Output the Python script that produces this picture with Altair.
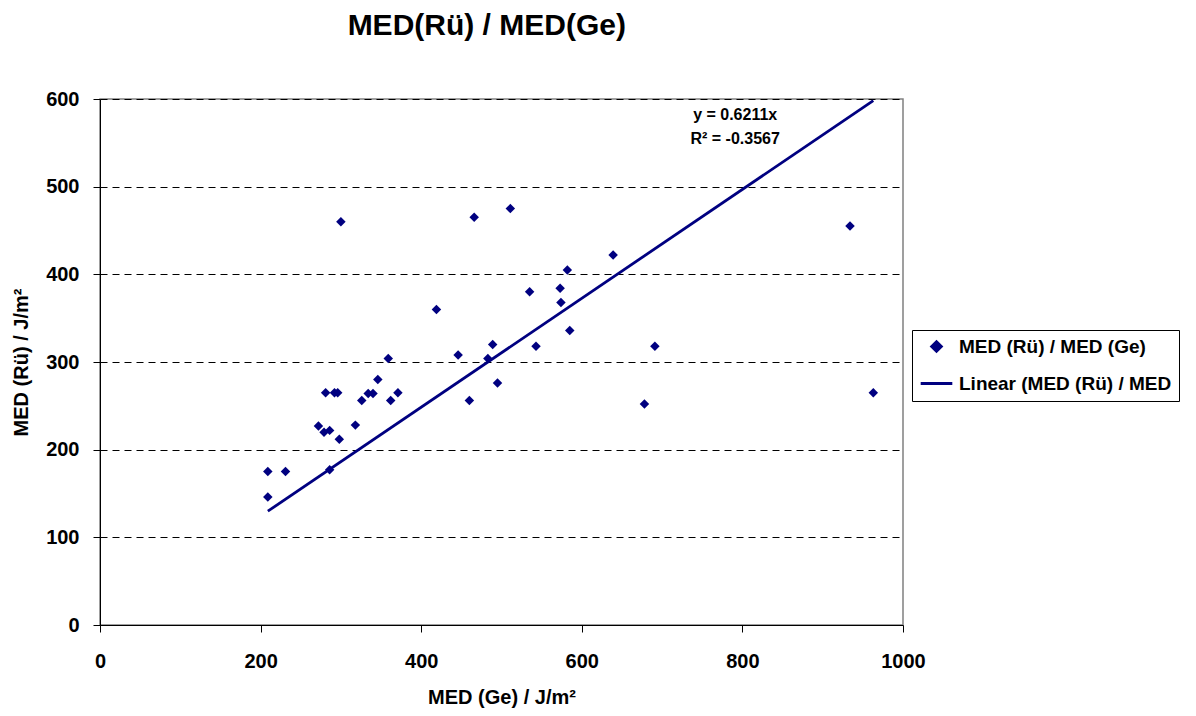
import altair as alt
import pandas as pd

# Data
med_ge = [209, 209, 231, 286, 272, 279, 286, 298, 318, 281, 292, 296, 326, 334,
          340, 346, 359, 362, 371, 300, 466, 511, 419, 639, 582, 573, 535, 574,
          585, 446, 489, 483, 543, 691, 495, 460, 678, 934, 963]
med_ru = [175, 146, 175, 177, 227, 220, 222, 212, 228, 265, 265, 265, 256, 264,
          264, 280, 304, 256, 265, 460, 465, 475, 360, 422, 405, 384, 380, 368,
          336, 308, 320, 304, 318, 318, 276, 256, 252, 455, 265]
slope = 0.6211
eq_lines = ["y = 0.6211x", "R² = -0.3567"]
eq_x = [791, 791]
eq_y = [582, 554]
series_names = ["MED (Rü) / MED (Ge)", "Linear (MED (Rü) / MED"]

NAVY = "#000080"
FONT = "Liberation Sans"

pts = pd.DataFrame({"x": med_ge, "y": med_ru, "s": series_names[0]})
xmin, xmax = min(med_ge), max(med_ge)
trend = pd.DataFrame({"x": [xmin, xmax], "y": [slope * xmin, slope * xmax],
                      "s": series_names[1]})
eq = pd.DataFrame({"x": eq_x, "y": eq_y, "t": eq_lines})

xs = alt.Scale(domain=[0, 1000], nice=False, zero=True)
ys = alt.Scale(domain=[0, 600], nice=False, zero=True)

color = alt.Color(
    "s:N",
    scale=alt.Scale(domain=series_names, range=[NAVY, NAVY]),
    legend=alt.Legend(
        title=None, orient="none", legendX=812, legendY=231,
        labelFont=FONT, labelFontSize=19, labelFontWeight="bold",
        labelColor="black", labelLimit=400, labelOffset=5,
        strokeColor="black", padding=7, rowPadding=8,
        symbolStrokeColor=NAVY, symbolFillColor=NAVY,
        symbolStrokeWidth=3, fillColor="white",
    ),
)
shape = alt.Shape(
    "s:N",
    scale=alt.Scale(domain=series_names, range=["diamond", "stroke"]),
    legend=alt.Legend(title=None),
)
size = alt.Size(
    "s:N",
    scale=alt.Scale(domain=series_names, range=[90, 1000]),
    legend=alt.Legend(title=None),
)

LBL = 20
xaxis = alt.Axis(values=[0, 200, 400, 600, 800, 1000], title="MED (Ge) / J/m²",
                 format="d", labelFlush=False,
                 grid=False, tickSize=7, tickColor="black", domainColor="black",
                 labelFont=FONT, labelFontSize=LBL, labelFontWeight="bold",
                 labelColor="black", labelPadding=19,
                 titleFont=FONT, titleFontSize=LBL, titleFontWeight="bold",
                 titleColor="black", titlePadding=16)
yaxis = alt.Axis(values=[0, 100, 200, 300, 400, 500, 600], title="MED (Rü) / J/m²",
                 format="d", labelFlush=False,
                 grid=True, gridDash=[7, 5], gridColor="black", gridWidth=1,
                 tickSize=7, tickColor="black", domainColor="black",
                 labelFont=FONT, labelFontSize=LBL, labelFontWeight="bold",
                 labelColor="black", labelPadding=14,
                 titleFont=FONT, titleFontSize=LBL, titleFontWeight="bold",
                 titleColor="black", titlePadding=14)

points = alt.Chart(pts).mark_point(filled=True, opacity=1).encode(
    x=alt.X("x:Q", scale=xs, axis=xaxis),
    y=alt.Y("y:Q", scale=ys, axis=yaxis),
    color=color,
    shape=shape,
    size=size,
)

line = alt.Chart(trend).mark_line(strokeWidth=2.8).encode(
    x=alt.X("x:Q", scale=xs),
    y=alt.Y("y:Q", scale=ys),
    color=alt.Color("s:N", scale=alt.Scale(domain=series_names, range=[NAVY, NAVY])),
)

text = alt.Chart(eq).mark_text(font=FONT, fontSize=16, fontWeight="bold",
                               color="black", align="center", baseline="middle").encode(
    x=alt.X("x:Q", scale=xs),
    y=alt.Y("y:Q", scale=ys),
    text="t:N",
)

chart = alt.layer(points, line, text).properties(
    width=803, height=526,
    autosize=alt.AutoSizeParams(type="none"),
    padding={"left": 92, "top": 91, "right": 284, "bottom": 83},
    title=alt.Title("MED(Rü) / MED(Ge)", anchor="start", dx=336, offset=48,
                    font=FONT, fontSize=30, fontWeight="bold", color="black"),
    background="white",
).configure_view(
    stroke="#808080", strokeWidth=1.5
).configure_axis(
    gridDash=[7, 5]
)

chart.save("out.html", embed_options={"renderer": "svg", "actions": False})
